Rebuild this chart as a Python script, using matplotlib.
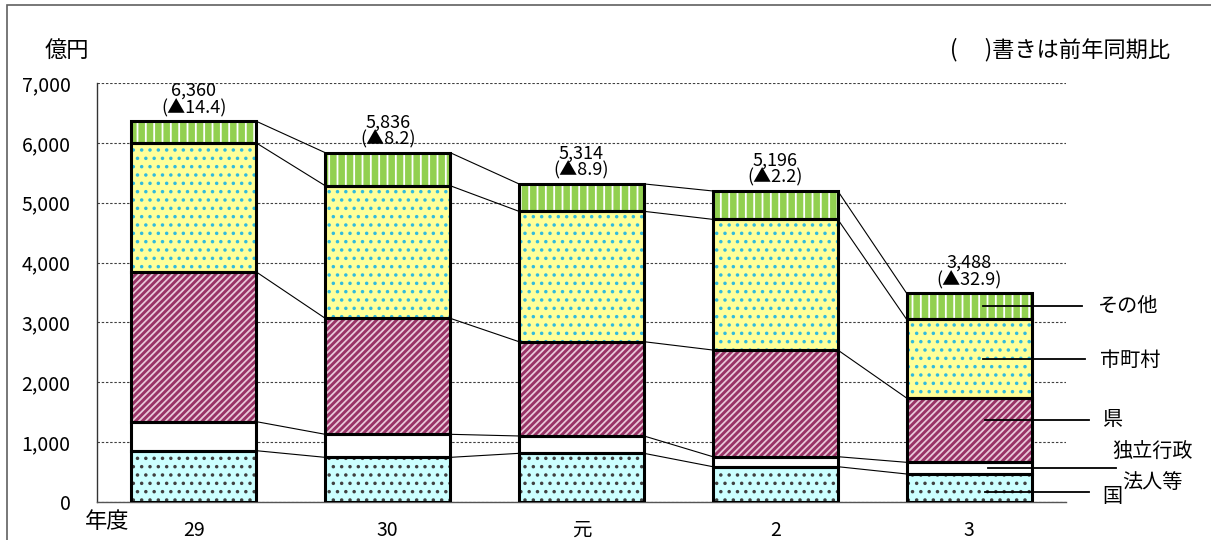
import matplotlib
matplotlib.use("Agg")
import matplotlib.pyplot as plt
from matplotlib.patches import Rectangle
import numpy as np

plt.rcParams['font.family'] = ['Noto Sans CJK JP', 'DejaVu Sans']
plt.rcParams['hatch.linewidth'] = 1.3

# ---- data ----
years = ['29', '30', '元', '2', '3']
kuni = [857, 746, 813, 590, 468]            # 国
dokuhou = [485, 385, 290, 167, 195]         # 独立行政法人等
ken = [2500, 1938, 1575, 1782, 1074]        # 県
shichoson = [2155, 2215, 2178, 2183, 1315]  # 市町村
sonota = [363, 552, 458, 474, 436]          # その他
totals = ['6,360', '5,836', '5,314', '5,196', '3,488']
changes = ['(▲14.4)', '(▲8.2)', '(▲8.9)', '(▲2.2)', '(▲32.9)']
yticks = [0, 1000, 2000, 3000, 4000, 5000, 6000, 7000]
ytick_labels = ['0', '1,000', '2,000', '3,000', '4,000', '5,000', '6,000', '7,000']
label_texts = ['国', '独立行政', '法人等', '県', '市町村', 'その他']

series = [kuni, dokuhou, ken, shichoson, sonota]
fills = ['#CCFFFF', '#FFFFFF', '#993366', '#FFFF99', '#92D050']
hatch_colors = ['#404040', '#FFFFFF', '#E8C8D8', '#33BBDD', '#FFFFFF']
hatches = ['..', None, '/////', '..', '||']

fig = plt.figure(figsize=(12.11, 5.40), dpi=100)
ax = fig.add_axes([97/1211, 38/540, 969/1211, 419/540])

x = np.arange(len(years))
w = 0.645
bottom = np.zeros(len(years))
cums = [bottom.copy()]
for vals, fc, hc, h in zip(series, fills, hatch_colors, hatches):
    vals = np.array(vals, dtype=float)
    ax.bar(x, vals, bottom=bottom, width=w, color=fc, edgecolor=hc,
           hatch=h, linewidth=0, zorder=2)
    ax.bar(x, vals, bottom=bottom, width=w, fill=False, edgecolor='black',
           linewidth=2.2, zorder=3)
    bottom = bottom + vals
    cums.append(bottom.copy())

# connector lines between bars
for i in range(len(years) - 1):
    for c in cums[1:]:
        ax.plot([x[i] + w/2, x[i+1] - w/2], [c[i], c[i+1]], color='black',
                lw=0.8, zorder=1.5)

# total labels (two lines in one text)
for xi, tot, t, ch in zip(x, bottom, totals, changes):
    ax.annotate(t + '\n' + ch, (xi, tot), xytext=(0, 3), textcoords='offset points',
                ha='center', va='bottom', fontsize=13, linespacing=0.92,
                multialignment='center')

# right-side series labels for last bar
last = len(years) - 1
line_y = [167, 573, 1370, (cums[3][last] + cums[4][last]) / 2,
          (cums[4][last] + cums[5][last]) / 2]
line_x0 = [4.08, 4.10, 4.08, 4.07, 4.07]
line_x1 = [4.62, 4.76, 4.62, 4.60, 4.58]
for ly, x0, x1 in zip(line_y, line_x0, line_x1):
    ax.plot([x0, x1], [ly, ly], color='black', lw=1.3, zorder=4, clip_on=False)

text_x = [4.686, 4.737, 4.789, 4.686, 4.675, 4.665]
text_y = [84, 835, 334, 1370, 2372, 3274]
for tx, ty, name in zip(text_x, text_y, label_texts):
    ax.text(tx, ty, name, ha='left', va='center', fontsize=14.5, clip_on=False)

ax.set_xlim(-0.5, 4.5)
ax.set_ylim(0, 7000)
ax.set_yticks(yticks)
ax.set_yticklabels(ytick_labels, fontsize=14)
ax.set_xticks(x)
ax.set_xticklabels(years, fontsize=14)
ax.tick_params(axis='y', length=0, pad=19)
ax.tick_params(axis='x', length=0, pad=13)
ax.yaxis.grid(True, linestyle=(0, (2.2, 1.6)), color='#404040', lw=0.8)
ax.set_axisbelow(True)
for s in ['top', 'right']:
    ax.spines[s].set_visible(False)
ax.spines['left'].set_color('#333333')
ax.spines['left'].set_linewidth(1.0)
ax.spines['bottom'].set_color('#555555')
ax.spines['bottom'].set_linewidth(1.0)

fig.text(67/1211, 1 - 50/540, '億円', ha='center', va='center', fontsize=16)
fig.text(107/1211, 1 - 522/540, '年度', ha='center', va='center', fontsize=16)
fig.text(1170/1211, 1 - 50/540, '(\u3000 )書きは前年同期比', ha='right', va='center',
         fontsize=16)

fig.add_artist(Rectangle((7/1211, -0.05), 1.2, 1 - 5/540 + 0.05,
                         transform=fig.transFigure, fill=False,
                         edgecolor='#606060', lw=1.2))

fig.savefig('out.png', dpi=100)
